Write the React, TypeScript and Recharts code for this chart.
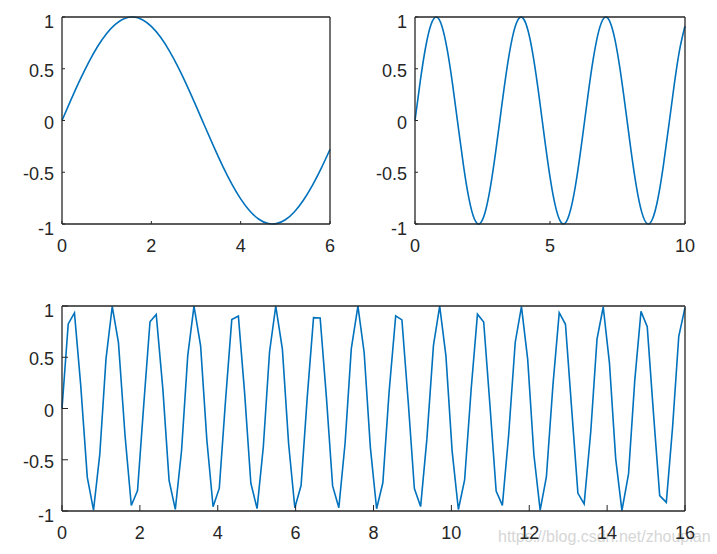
import React from "react";
import { LineChart, Line, XAxis, YAxis } from "recharts";

// ---- Data ----
const tlX = [0, 0.2, 0.4, 0.6, 0.8, 1.0, 1.2, 1.4, 1.6, 1.8, 2.0, 2.2, 2.4, 2.6, 2.8, 3.0, 3.2, 3.4, 3.6, 3.8, 4.0, 4.2, 4.4, 4.6, 4.8, 5.0, 5.2, 5.4, 5.6, 5.8, 6.0];
const tlY = [0, 0.1987, 0.3894, 0.5646, 0.7174, 0.8415, 0.932, 0.9854, 0.9996, 0.9738, 0.9093, 0.8085, 0.6755, 0.5155, 0.335, 0.1411, -0.0584, -0.2555, -0.4425, -0.6119, -0.7568, -0.8716, -0.9516, -0.9937, -0.9962, -0.9589, -0.8835, -0.7728, -0.6313, -0.4646, -0.2794];

const trX = [0, 0.2, 0.4, 0.6, 0.8, 1.0, 1.2, 1.4, 1.6, 1.8, 2.0, 2.2, 2.4, 2.6, 2.8, 3.0, 3.2, 3.4, 3.6, 3.8, 4.0, 4.2, 4.4, 4.6, 4.8, 5.0, 5.2, 5.4, 5.6, 5.8, 6.0, 6.2, 6.4, 6.6, 6.8, 7.0, 7.2, 7.4, 7.6, 7.8, 8.0, 8.2, 8.4, 8.6, 8.8, 9.0, 9.2, 9.4, 9.6, 9.8, 10.0];
const trY = [0, 0.3894, 0.7174, 0.932, 0.9996, 0.9093, 0.6755, 0.335, -0.0584, -0.4425, -0.7568, -0.9516, -0.9962, -0.8835, -0.6313, -0.2794, 0.1165, 0.4941, 0.7937, 0.9679, 0.9894, 0.8546, 0.5849, 0.2229, -0.1743, -0.544, -0.8278, -0.9809, -0.9792, -0.8228, -0.5366, -0.1656, 0.2315, 0.5921, 0.8592, 0.9906, 0.9657, 0.7883, 0.4864, 0.1078, -0.2879, -0.6381, -0.8876, -0.9969, -0.9489, -0.751, -0.4346, -0.0496, 0.3433, 0.682, 0.9129];

const btX = [0, 0.16, 0.32, 0.48, 0.65, 0.81, 0.97, 1.13, 1.29, 1.45, 1.62, 1.78, 1.94, 2.1, 2.26, 2.42, 2.59, 2.75, 2.91, 3.07, 3.23, 3.39, 3.56, 3.72, 3.88, 4.04, 4.2, 4.36, 4.53, 4.69, 4.85, 5.01, 5.17, 5.33, 5.49, 5.66, 5.82, 5.98, 6.14, 6.3, 6.46, 6.63, 6.79, 6.95, 7.11, 7.27, 7.43, 7.6, 7.76, 7.92, 8.08, 8.24, 8.4, 8.57, 8.73, 8.89, 9.05, 9.21, 9.37, 9.54, 9.7, 9.86, 10.02, 10.18, 10.34, 10.51, 10.67, 10.83, 10.99, 11.15, 11.31, 11.47, 11.64, 11.8, 11.96, 12.12, 12.28, 12.44, 12.61, 12.77, 12.93, 13.09, 13.25, 13.41, 13.58, 13.74, 13.9, 14.06, 14.22, 14.38, 14.55, 14.71, 14.87, 15.03, 15.19, 15.35, 15.52, 15.68, 15.84, 16.0];
const btY = [0, 0.8247, 0.933, 0.2304, -0.6723, -0.9908, -0.4484, 0.4836, 0.9954, 0.6423, -0.2689, -0.9464, -0.8016, 0.0397, 0.8467, 0.9177, 0.1916, -0.7012, -0.9846, -0.4126, 0.5179, 0.9984, 0.6113, -0.3069, -0.9585, -0.7772, 0.0793, 0.8671, 0.9016, 0.1525, -0.7288, -0.9769, -0.3761, 0.5515, 0.9999, 0.5794, -0.3444, -0.969, -0.7518, 0.1188, 0.8862, 0.8835, 0.1132, -0.7552, -0.9676, -0.339, 0.5841, 0.9997, 0.5467, -0.3814, -0.9782, -0.7249, 0.1581, 0.9038, 0.8643, 0.0736, -0.7806, -0.9568, -0.3014, 0.6159, 0.9981, 0.513, -0.4178, -0.9856, -0.6971, 0.1972, 0.9202, 0.8434, 0.034, -0.805, -0.9445, -0.2634, 0.6466, 0.9948, 0.4786, -0.4535, -0.9915, -0.668, 0.2359, 0.9349, 0.8216, -0.0056, -0.8278, -0.9308, -0.2249, 0.6761, 0.99, 0.4434, -0.4884, -0.9959, -0.638, 0.2743, 0.9479, 0.7983, -0.0453, -0.8496, -0.9155, -0.1861, 0.7049, 0.9836];

const yTicks = [-1, -0.5, 0, 0.5, 1];
const tlTicks = [0, 2, 4, 6];
const trTicks = [0, 5, 10];
const btTicks = [0, 2, 4, 6, 8, 10, 12, 14, 16];

// ---- Styles ----
const W = 717;
const H = 554;
const FONT = "'Liberation Sans', Arial, Helvetica, sans-serif";
const AX = "#262626";
const LINE = "#0072BD";
const FS = 18;

const YTick = (props: any) => {
  const { x, y, payload } = props;
  const v = payload.value;
  const off = Math.abs(v) === 1 ? 4.5 : 1.8;
  return (
    <text x={x} y={y + off} dy="0.355em" textAnchor="end" fontSize={FS} fontFamily={FONT} fill={AX}>
      {String(v)}
    </text>
  );
};

const XTick = (props: any) => {
  const { x, y, payload } = props;
  return (
    <text x={x} y={y} dy="0.71em" textAnchor="middle" fontSize={FS} fontFamily={FONT} fill={AX}>
      {String(payload.value)}
    </text>
  );
};

type PanelProps = {
  xs: number[];
  ys: number[];
  xMax: number;
  xTicks: number[];
  l: number;
  t: number;
  r: number;
  b: number;
  tickLen: number;
  curve: "linear" | "natural";
};

const YW = 50;
const XH = 40;

const Panel = ({ xs, ys, xMax, xTicks, l, t, r, b, tickLen, curve }: PanelProps) => {
  const data = xs.map((x, i) => ({ x, y: ys[i] }));
  const axisLine = { stroke: AX, strokeWidth: 1.3 };
  const tickLine = { stroke: AX, strokeWidth: 1 };
  return (
    <div style={{ position: "absolute", left: 0, top: 0 }}>
      <LineChart
        width={W}
        height={H}
        data={data}
        margin={{ left: l - YW, top: t - 1, right: W - r - 1, bottom: H - b - XH }}
      >
        <XAxis
          xAxisId="b"
          dataKey="x"
          type="number"
          domain={[0, xMax]}
          ticks={xTicks}
          orientation="bottom"
          height={XH}
          tickSize={-tickLen}
          tickMargin={15 + tickLen}
          axisLine={axisLine}
          tickLine={tickLine}
          tick={<XTick />}
          interval={0}
        />
        <XAxis
          xAxisId="t"
          dataKey="x"
          type="number"
          domain={[0, xMax]}
          ticks={xTicks}
          orientation="top"
          height={1}
          tickSize={-tickLen}
          axisLine={axisLine}
          tickLine={tickLine}
          tick={false}
          interval={0}
        />
        <YAxis
          yAxisId="l"
          type="number"
          domain={[-1, 1]}
          ticks={yTicks}
          orientation="left"
          width={YW}
          tickSize={-tickLen}
          tickMargin={8 + tickLen}
          axisLine={axisLine}
          tickLine={tickLine}
          tick={<YTick />}
          interval={0}
        />
        <YAxis
          yAxisId="r"
          type="number"
          domain={[-1, 1]}
          ticks={yTicks}
          orientation="right"
          width={1}
          tickSize={-tickLen}
          axisLine={axisLine}
          tickLine={tickLine}
          tick={false}
          interval={0}
        />
        <Line
          xAxisId="b"
          yAxisId="l"
          dataKey="y"
          type={curve}
          stroke={LINE}
          strokeWidth={1.6}
          dot={false}
          activeDot={false}
          isAnimationActive={false}
        />
      </LineChart>
    </div>
  );
};

export default function App() {
  return (
    <div style={{ position: "absolute", left: 0, top: 0, width: W, height: H, background: "#fff", overflow: "hidden" }}>
      <svg width={W} height={H} style={{ position: "absolute", left: 0, top: 0 }}>
        <text x={498} y={542} fontSize={16} fontFamily={FONT} fill="#d6d6d6">
          https://blog.csdn.net/zhoupian
        </text>
      </svg>
      <Panel xs={tlX} ys={tlY} xMax={6} xTicks={tlTicks} l={62} t={17} r={330} b={224} tickLen={3} curve="natural" />
      <Panel xs={trX} ys={trY} xMax={10} xTicks={trTicks} l={415} t={17} r={685} b={224} tickLen={3} curve="natural" />
      <Panel xs={btX} ys={btY} xMax={16} xTicks={btTicks} l={62} t={306} r={685} b={511} tickLen={6} curve="linear" />
    </div>
  );
}
